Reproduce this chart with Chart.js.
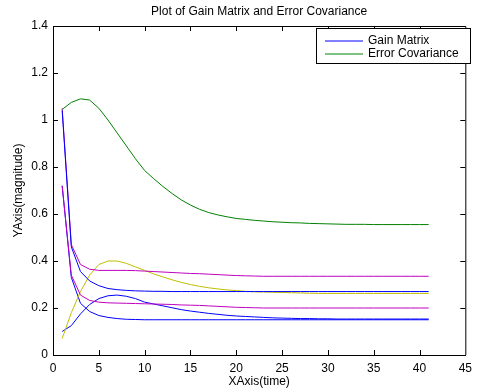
<!DOCTYPE html>
<html>
<head>
<meta charset="utf-8">
<script src="https://cdn.jsdelivr.net/npm/chart.js@4.4.1/dist/chart.umd.min.js"></script>
<style>
  html, body { margin: 0; padding: 0; background: #fff; }
  #wrap { width: 478px; height: 392px; }
</style>
</head>
<body>
<div id="wrap"><canvas id="myChart" width="478" height="392"></canvas></div>
<script>
// time steps
const pasos = [1,2,3,4,5,6,7,8,9,10,11,12,13,14,15,16,17,18,19,20,21,22,23,24,25,26,27,28,29,30,31,32,33,34,35,36,37,38,39,40,41];

// error covariance (green)
const errorCov = [1.045,1.075,1.09,1.085,1.05,1.0,0.945,0.89,0.835,0.785,0.75,0.717,0.687,0.66,0.638,0.62,0.606,0.596,0.588,0.581,0.577,0.573,0.57,0.567,0.565,0.563,0.562,0.56,0.559,0.558,0.557,0.556,0.556,0.556,0.555,0.555,0.555,0.555,0.555,0.555,0.555];

// gain matrix terms
const gainAlto = [1.04,0.46,0.355,0.315,0.295,0.283,0.278,0.275,0.273,0.272,0.271,0.271,0.27,0.27,0.27,0.27,0.27,0.27,0.27,0.27,0.27,0.27,0.27,0.27,0.27,0.27,0.27,0.27,0.27,0.27,0.27,0.27,0.27,0.27,0.27,0.27,0.27,0.27,0.27,0.27,0.27];
const gainBajo = [0.72,0.33,0.22,0.185,0.168,0.16,0.155,0.152,0.151,0.15,0.15,0.15,0.15,0.15,0.15,0.15,0.15,0.15,0.15,0.15,0.15,0.15,0.15,0.15,0.15,0.15,0.15,0.15,0.15,0.15,0.15,0.15,0.15,0.15,0.15,0.15,0.15,0.15,0.15,0.15,0.15];
const gainSube = [0.10,0.125,0.175,0.215,0.24,0.252,0.255,0.25,0.24,0.225,0.217,0.209,0.201,0.193,0.187,0.182,0.177,0.173,0.169,0.166,0.164,0.162,0.16,0.158,0.157,0.156,0.155,0.155,0.154,0.154,0.153,0.153,0.153,0.153,0.153,0.153,0.153,0.153,0.153,0.153,0.153];
const magAlto = [1.05,0.47,0.385,0.365,0.36,0.36,0.36,0.36,0.359,0.357,0.355,0.353,0.351,0.349,0.347,0.346,0.344,0.342,0.34,0.338,0.337,0.336,0.335,0.335,0.335,0.335,0.335,0.335,0.335,0.335,0.335,0.335,0.335,0.335,0.335,0.335,0.335,0.335,0.335,0.335,0.335];
const magBajo = [0.72,0.34,0.255,0.232,0.225,0.222,0.221,0.22,0.219,0.218,0.217,0.216,0.215,0.213,0.212,0.211,0.209,0.207,0.205,0.203,0.202,0.201,0.2,0.2,0.2,0.2,0.2,0.2,0.2,0.2,0.2,0.2,0.2,0.2,0.2,0.2,0.2,0.2,0.2,0.2,0.2];
const amarillo = [0.07,0.18,0.27,0.34,0.385,0.40,0.40,0.39,0.375,0.36,0.345,0.332,0.32,0.309,0.30,0.292,0.286,0.281,0.277,0.274,0.271,0.269,0.268,0.267,0.266,0.265,0.264,0.263,0.262,0.262,0.262,0.262,0.262,0.262,0.262,0.262,0.262,0.262,0.262,0.262,0.262];

const xTicks = [0,5,10,15,20,25,30,35,40,45];
const yTicks = [0,0.2,0.4,0.6,0.8,1,1.2,1.4];

const titulo = "Plot of Gain Matrix and Error Covariance";
const leyenda = ["Gain Matrix", "Error Covariance"];

const fuente = "Liberation Sans, Arial, sans-serif";
const azul = "#0000ff", verde = "#008000", magenta = "#bf00bf", amar = "#bfbf00";

function serie(vals, color) {
    return {
        data: pasos.map((x, i) => ({x: x, y: vals[i]})),
        borderColor: color, borderWidth: 1, pointRadius: 0, tension: 0, fill: false
    };
}

const datasets = [
    serie(gainAlto, azul),
    serie(errorCov, verde),
    serie(magAlto, magenta),
    serie(magBajo, magenta),
    serie(amarillo, amar),
    serie(gainSube, azul),
    serie(gainBajo, azul)
];

// marco, ticks hacia adentro, titulo y leyenda
const extras = {
    id: "extras",
    afterDraw(chart) {
        const ctx = chart.ctx;
        const a = chart.chartArea;
        const sx = chart.scales.x, sy = chart.scales.y;
        ctx.save();
        ctx.strokeStyle = "#000";
        ctx.lineWidth = 1;
        ctx.beginPath();
        ctx.moveTo(a.left, a.top + 0.5); ctx.lineTo(a.right + 0.5, a.top + 0.5);
        ctx.lineTo(a.right + 0.5, a.bottom);
        ctx.stroke();
        ctx.beginPath();
        xTicks.slice(1, -1).forEach(v => {
            const px = Math.round(sx.getPixelForValue(v)) + 0.5;
            ctx.moveTo(px, a.bottom); ctx.lineTo(px, a.bottom - 5);
            ctx.moveTo(px, a.top); ctx.lineTo(px, a.top + 5);
        });
        yTicks.slice(1, -1).forEach(v => {
            const py = Math.round(sy.getPixelForValue(v)) + 0.5;
            ctx.moveTo(a.left, py); ctx.lineTo(a.left + 5, py);
            ctx.moveTo(a.right, py); ctx.lineTo(a.right - 5, py);
        });
        ctx.stroke();

        // titulo
        ctx.fillStyle = "#000";
        ctx.font = "12px " + fuente;
        ctx.textAlign = "center";
        ctx.textBaseline = "middle";
        ctx.fillText(titulo, (a.left + a.right) / 2, 12);

        // leyenda
        const bx = 316.5, by = 28.5, bw = 154, bh = 35;
        ctx.fillStyle = "#fff";
        ctx.fillRect(bx, by, bw, bh);
        ctx.strokeStyle = "#000";
        ctx.strokeRect(bx, by, bw, bh);
        const cols = [azul, verde];
        leyenda.forEach((t, i) => {
            const y = 41 + i * 12.5;
            ctx.beginPath();
            ctx.strokeStyle = cols[i];
            ctx.moveTo(325, Math.round(y)); ctx.lineTo(363, Math.round(y));
            ctx.stroke();
            ctx.fillStyle = "#000";
            ctx.textAlign = "left";
            ctx.fillText(t, 368, y);
        });
        ctx.restore();
    }
};

const config = {
    type: "line",
    data: {datasets},
    plugins: [extras],
    options: {
        responsive: false,
        animation: false,
        layout: {autoPadding: false, padding: {top: 26, left: 0, right: 5, bottom: 0}},
        plugins: {legend: {display: false}, title: {display: false}, tooltip: {enabled: false}},
        scales: {
            x: {
                type: "linear", min: 0, max: 45,
                afterFit: s => { s.height = 37; },
                grid: {display: false, drawTicks: false},
                border: {display: true, color: "#000", width: 1},
                ticks: {stepSize: 5, padding: 6, color: "#000", font: {family: fuente, size: 12}, maxRotation: 0, autoSkip: false},
                title: {display: true, text: "XAxis(time)", color: "#000", font: {family: fuente, size: 12}, padding: {top: 0, bottom: 3}}
            },
            y: {
                type: "linear", min: 0, max: 1.4,
                afterFit: s => { s.width = 53; },
                grid: {display: false, drawTicks: false},
                border: {display: true, color: "#000", width: 1},
                ticks: {stepSize: 0.2, padding: 5, color: "#000", font: {family: fuente, size: 12},
                        callback: v => String(Number(v.toFixed(1)))},
                title: {display: true, text: "YAxis(magnitude)", color: "#000", font: {family: fuente, size: 12}, padding: {top: 11, bottom: 0}}
            }
        }
    }
};

new Chart(document.getElementById("myChart"), config);
</script>
</body>
</html>
